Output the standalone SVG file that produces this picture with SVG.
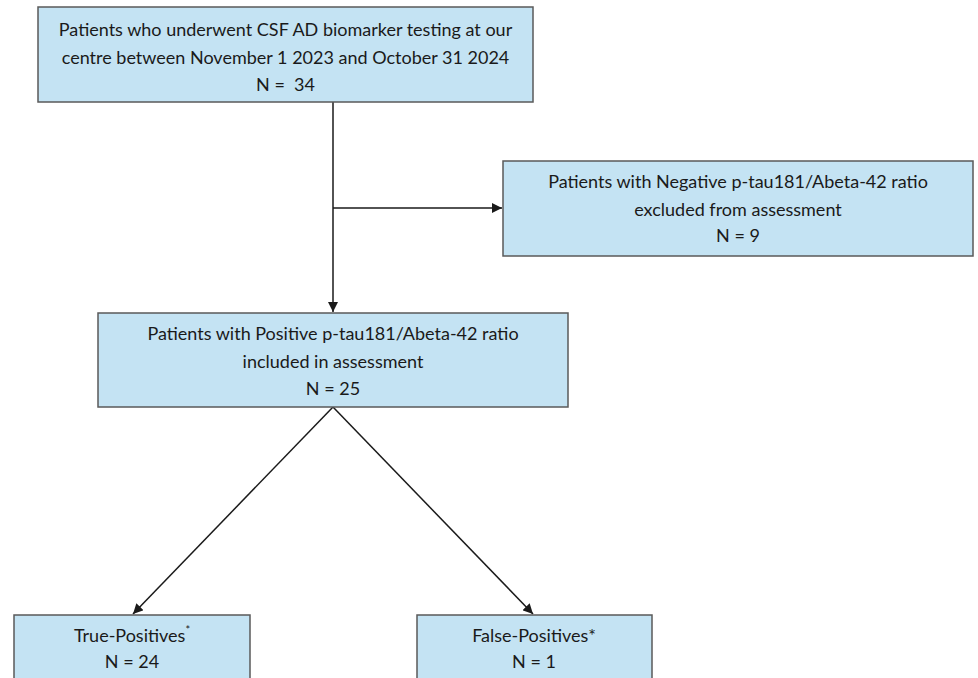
<svg xmlns="http://www.w3.org/2000/svg" width="978" height="678" viewBox="0 0 978 678">
<defs>
<style>
.box{fill:#c4e3f3;stroke:#5a5a5a;stroke-width:1.5}
.t{font-family:Lato,"Open Sans","Liberation Sans",sans-serif;font-size:18px;fill:#1a1a1a;text-anchor:middle;white-space:pre}
.c{stroke:#1a1a1a;stroke-width:1.5;fill:none}
</style>
<marker id="ah" viewBox="0 0 10 10" refX="10" refY="5" markerWidth="10" markerHeight="10" markerUnits="userSpaceOnUse" orient="auto">
<path d="M0,0 L10,5 L0,10 Z" fill="#1a1a1a"/>
</marker>
</defs>
<rect width="978" height="678" fill="#ffffff"/>
<g id="connectors">
<line class="c" x1="333" y1="102" x2="333" y2="312" marker-end="url(#ah)"/>
<line class="c" x1="333" y1="208" x2="502" y2="208" marker-end="url(#ah)"/>
<line class="c" x1="333" y1="407" x2="133" y2="614" marker-end="url(#ah)"/>
<line class="c" x1="333" y1="407" x2="533" y2="614" marker-end="url(#ah)"/>
</g>
<g id="n1">
<rect class="box" x="38" y="7" width="495" height="95"/>
<text class="t" x="285.5" y="36">Patients who underwent CSF AD biomarker testing at our</text>
<text class="t" x="285.5" y="64">centre between November 1 2023 and October 31 2024</text>
<text class="t" x="285.5" y="91" xml:space="preserve">N =  34</text>
</g>
<g id="n2">
<rect class="box" x="503" y="161" width="470" height="95"/>
<text class="t" x="738" y="188">Patients with Negative p-tau181/Abeta-42 ratio</text>
<text class="t" x="738" y="216">excluded from assessment</text>
<text class="t" x="738" y="242">N = 9</text>
</g>
<g id="n3">
<rect class="box" x="98" y="313" width="470" height="94"/>
<text class="t" x="333" y="340">Patients with Positive p-tau181/Abeta-42 ratio</text>
<text class="t" x="333" y="368">included in assessment</text>
<text class="t" x="333" y="395">N = 25</text>
</g>
<g id="n4">
<rect class="box" x="14" y="615" width="236" height="80"/>
<text class="t" x="132" y="642">True-Positives<tspan font-size="11" dy="-8">*</tspan></text>
<text class="t" x="132" y="668">N = 24</text>
</g>
<g id="n5">
<rect class="box" x="417" y="615" width="235" height="80"/>
<text class="t" x="534" y="642">False-Positives*</text>
<text class="t" x="534" y="668">N = 1</text>
</g>
</svg>
